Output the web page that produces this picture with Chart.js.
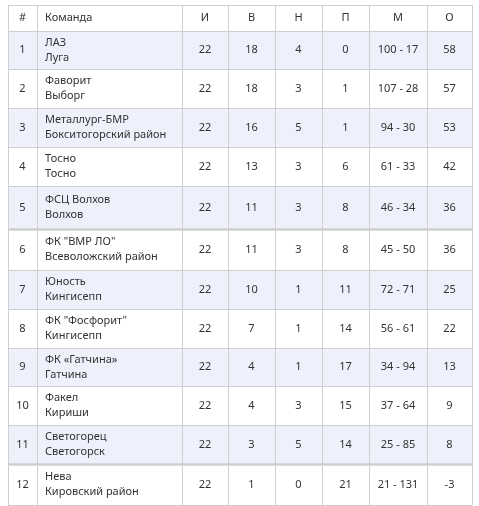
<!DOCTYPE html>
<html><head><meta charset="utf-8">
<script src="https://cdn.jsdelivr.net/npm/chart.js@4"></script>
<style>html,body{margin:0;padding:0;background:#fff}#c{display:block}</style>
</head><body>
<canvas id="c" width="479" height="506"></canvas>
<script>
// Данные таблицы
const headers = ["#", "Команда", "И", "В", "Н", "П", "М", "О"];
const places = [1,2,3,4,5,6,7,8,9,10,11,12];
const teams = ["ЛАЗ","Фаворит","Металлург-БМР","Тосно","ФСЦ Волхов","ФК \"ВМР ЛО\"","Юность","ФК \"Фосфорит\"","ФК «Гатчина»","Факел","Светогорец","Нева"];
const cities = ["Луга","Выборг","Бокситогорский район","Тосно","Волхов","Всеволожский район","Кингисепп","Кингисепп","Гатчина","Кириши","Светогорск","Кировский район"];
const games = [22,22,22,22,22,22,22,22,22,22,22,22];
const wins = [18,18,16,13,11,11,10,7,4,4,3,1];
const draws = [4,3,5,3,3,3,1,1,1,3,5,0];
const losses = [0,1,1,6,8,8,11,14,17,15,14,21];
const goals = ["100 - 17","107 - 28","94 - 30","61 - 33","46 - 34","45 - 50","72 - 71","56 - 61","34 - 94","37 - 64","25 - 85","21 - 131"];
const points = [58,57,53,42,36,36,25,22,13,9,8,-3];

// Геометрия (в единицах шкал)
const colEdges = [0, 29, 174, 220, 267, 314, 361, 419, 464];
const rowEdges = [0, 26, 64, 103, 142, 181, 224, 265, 304, 343, 381, 420, 459, 500];
const thick = [6, 12];

const tablePlugin = {
  id: 'table',
  beforeDraw(chart) {
    const {ctx, scales: {x, y}} = chart;
    const X = v => x.getPixelForValue(v), Y = v => y.getPixelForValue(v);
    ctx.save();
    for (let r = 1; r < rowEdges.length - 1; r++) {
      if (r % 2 === 1) {
        ctx.fillStyle = '#eef1fb';
        ctx.fillRect(X(0), Y(rowEdges[r]), X(464) - X(0), Y(rowEdges[r+1]) - Y(rowEdges[r]));
      }
    }
    ctx.strokeStyle = '#cfcfcf';
    rowEdges.forEach((e, i) => {
      ctx.lineWidth = thick.includes(i) ? 2.5 : 1;
      ctx.beginPath(); ctx.moveTo(X(0), Math.round(Y(e)) + 0.5); ctx.lineTo(X(464), Math.round(Y(e)) + 0.5); ctx.stroke();
    });
    ctx.lineWidth = 1;
    colEdges.forEach(e => {
      ctx.beginPath(); ctx.moveTo(Math.round(X(e)) + 0.5, Y(0)); ctx.lineTo(Math.round(X(e)) + 0.5, Y(500)); ctx.stroke();
    });
    ctx.fillStyle = '#333';
    ctx.font = '11px "Noto Sans"';
    ctx.textBaseline = 'middle';
    const cell = (c, r, text, line) => {
      const cy = (Y(rowEdges[r]) + Y(rowEdges[r+1])) / 2;
      if (c === 1) {
        ctx.textAlign = 'left';
        ctx.fillText(text, X(colEdges[1]) + 8, line === undefined ? cy : cy + line * 15);
      } else {
        ctx.textAlign = 'center';
        ctx.fillText(text, (X(colEdges[c]) + X(colEdges[c+1])) / 2, cy);
      }
    };
    headers.forEach((h, c) => cell(c, 0, h));
    places.forEach((p, i) => {
      const r = i + 1;
      cell(0, r, String(p));
      cell(1, r, teams[i], -0.5);
      cell(1, r, cities[i], 0.5);
      cell(2, r, String(games[i]));
      cell(3, r, String(wins[i]));
      cell(4, r, String(draws[i]));
      cell(5, r, String(losses[i]));
      cell(6, r, goals[i]);
      cell(7, r, String(points[i]));
    });
    ctx.restore();
  }
};

new Chart(document.getElementById('c'), {
  type: 'scatter',
  data: { datasets: [{ data: [] }] },
  options: {
    responsive: false,
    animation: false,
    layout: { padding: { left: 8, right: 7, top: 5, bottom: 1 } },
    plugins: { legend: { display: false }, tooltip: { enabled: false } },
    scales: {
      x: { type: 'linear', min: 0, max: 464, display: false },
      y: { type: 'linear', min: 0, max: 500, reverse: true, display: false }
    }
  },
  plugins: [tablePlugin]
});
</script>
</body></html>
